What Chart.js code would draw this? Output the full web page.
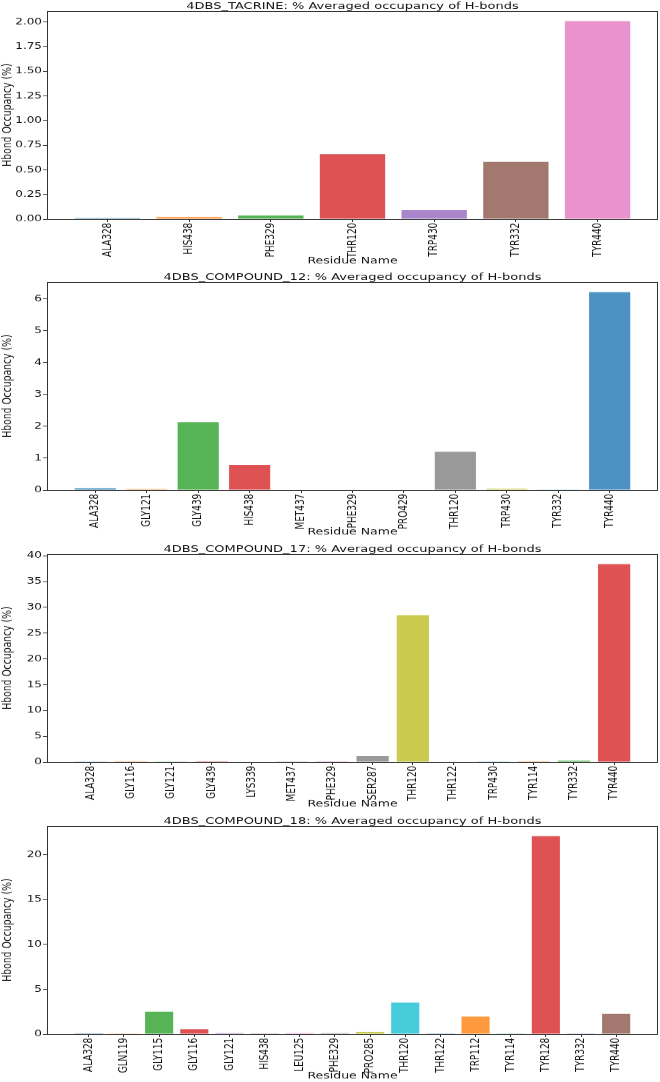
<!DOCTYPE html>
<html>
<head>
<meta charset="utf-8">
<script src="https://cdn.jsdelivr.net/npm/chart.js@4.4.0/dist/chart.umd.min.js"></script>
<style>
  html, body { margin: 0; padding: 0; background: #fff; overflow: hidden; width: 660px; height: 1082px; }
  .panel { position: absolute; left: 0; width: 660px; height: 366px; transform-origin: 0 0; transform: scaleY(0.74); }
</style>
</head>
<body>
<div class="panel" style="top:0px"><canvas id="c1"></canvas></div>
<div class="panel" style="top:271px"><canvas id="c2"></canvas></div>
<div class="panel" style="top:543px"><canvas id="c3"></canvas></div>
<div class="panel" style="top:815px"><canvas id="c4"></canvas></div>
<script>
// ---- data ----
const titles = [
  "4DBS_TACRINE: % Averaged occupancy of H-bonds",
  "4DBS_COMPOUND_12: % Averaged occupancy of H-bonds",
  "4DBS_COMPOUND_17: % Averaged occupancy of H-bonds",
  "4DBS_COMPOUND_18: % Averaged occupancy of H-bonds"
];
const residuesTacrine = ["ALA328","HIS438","PHE329","THR120","TRP430","TYR332","TYR440"];
const occupancyTacrine = [0.01, 0.02, 0.035, 0.66, 0.09, 0.58, 2.01];

const residues12 = ["ALA328","GLY121","GLY439","HIS438","MET437","PHE329","PRO429","THR120","TRP430","TYR332","TYR440"];
const occupancy12 = [0.06, 0.03, 2.13, 0.79, 0.01, 0.01, 0.01, 1.2, 0.04, 0.02, 6.22];

const residues17 = ["ALA328","GLY116","GLY121","GLY439","LYS339","MET437","PHE329","SER287","THR120","THR122","TRP430","TYR114","TYR332","TYR440"];
const occupancy17 = [0.02, 0.01, 0.03, 0.01, 0.08, 0.02, 0.01, 1.15, 28.5, 0.06, 0.04, 0.01, 0.3, 38.4];

const residues18 = ["ALA328","GLN119","GLY115","GLY116","GLY121","HIS438","LEU125","PHE329","PRO285","THR120","THR122","TRP112","TYR114","TYR128","TYR332","TYR440"];
const occupancy18 = [0.08, 0.02, 2.5, 0.55, 0.1, 0.07, 0.1, 0.1, 0.25, 3.5, 0.07, 1.95, 0.02, 22.1, 0.07, 2.25];

const yStepSizes = [0.25, 1, 5, 5];
const yDecimals = [2, 0, 0, 0];
const xAxisLabel = "Residue Name";
const yAxisLabel = "Hbond Occupancy (%)";

// ---- style ----
const tab10 = ["31,119,180","255,127,14","44,160,44","214,39,40","148,103,189","140,86,75","227,119,194","127,127,127","188,189,34","23,190,207"];
const FONT = "'DejaVu Sans', sans-serif";
const INK = "#111";

const framePlugin = {
  id: 'frame',
  afterDraw(chart) {
    const a = chart.chartArea, ctx = chart.ctx;
    ctx.save();
    ctx.strokeStyle = '#333';
    ctx.lineWidth = 1;
    ctx.strokeRect(Math.round(a.left) + 0.5, Math.round(a.top) + 0.5, Math.round(a.right - a.left) - 1, Math.round(a.bottom - a.top));
    ctx.restore();
  }
};

function makeChart(id, title, cats, vals, step, dec) {
  const n = cats.length;
  const margin = 0.05 * (n - 1 + 0.8);
  const ymax = Math.max(...vals) * 1.05;
  new Chart(document.getElementById(id), {
    type: 'bar',
    data: {
      datasets: [{
        data: vals.map((v, i) => ({ x: i, y: v })),
        backgroundColor: vals.map((v, i) => 'rgba(' + tab10[i % 10] + ',0.8)'),
        borderWidth: 0,
        categoryPercentage: 1,
        barPercentage: 0.8
      }]
    },
    options: {
      responsive: true,
      maintainAspectRatio: false,
      animation: false,
      layout: { padding: { top: 2, right: 2, left: 0, bottom: 0 } },
      plugins: {
        legend: { display: false },
        tooltip: { enabled: false },
        title: {
          display: true, text: title, color: INK, fullSize: false,
          font: { family: FONT, size: 13, weight: 'normal', lineHeight: 1 },
          padding: { top: 0, bottom: 0 }
        }
      },
      scales: {
        x: {
          type: 'linear',
          offset: false,
          min: -0.4 - margin,
          max: n - 1 + 0.4 + margin,
          afterBuildTicks: (axis) => { axis.ticks = cats.map((c, i) => ({ value: i })); },
          afterFit: (axis) => { axis.height = 70; },
          grid: { display: true, offset: false, drawOnChartArea: false, drawTicks: true, tickLength: 4, color: '#333' },
          border: { display: false },
          ticks: {
            autoSkip: false, minRotation: 90, maxRotation: 90, padding: 1, color: INK,
            font: { family: FONT, size: 12 },
            callback: (v) => cats[Math.round(v)] ?? ''
          },
          title: {
            display: true, text: xAxisLabel, color: INK,
            font: { family: FONT, size: 12.5, lineHeight: 1.2 },
            padding: { top: 0, bottom: 6 }
          }
        },
        y: {
          min: 0,
          max: ymax,
          afterBuildTicks: (axis) => {
            const t = [];
            for (let k = 0; k * step <= ymax + 1e-9; k++) t.push({ value: k * step });
            axis.ticks = t;
          },
          afterFit: (axis) => { axis.width = 47; },
          grid: { display: true, drawOnChartArea: false, drawTicks: true, tickLength: 4, color: '#333' },
          border: { display: false },
          ticks: {
            stepSize: step, padding: 1, color: INK,
            font: { family: FONT, size: 12 },
            callback: (v) => Number(v).toFixed(dec)
          },
          title: {
            display: true, text: yAxisLabel, color: INK,
            font: { family: FONT, size: 12.5, lineHeight: 1.2 },
            padding: { top: 0.5, bottom: 0 }
          }
        }
      }
    },
    plugins: [framePlugin]
  });
}

makeChart('c1', titles[0], residuesTacrine, occupancyTacrine, yStepSizes[0], yDecimals[0]);
makeChart('c2', titles[1], residues12, occupancy12, yStepSizes[1], yDecimals[1]);
makeChart('c3', titles[2], residues17, occupancy17, yStepSizes[2], yDecimals[2]);
makeChart('c4', titles[3], residues18, occupancy18, yStepSizes[3], yDecimals[3]);
</script>
</body>
</html>
